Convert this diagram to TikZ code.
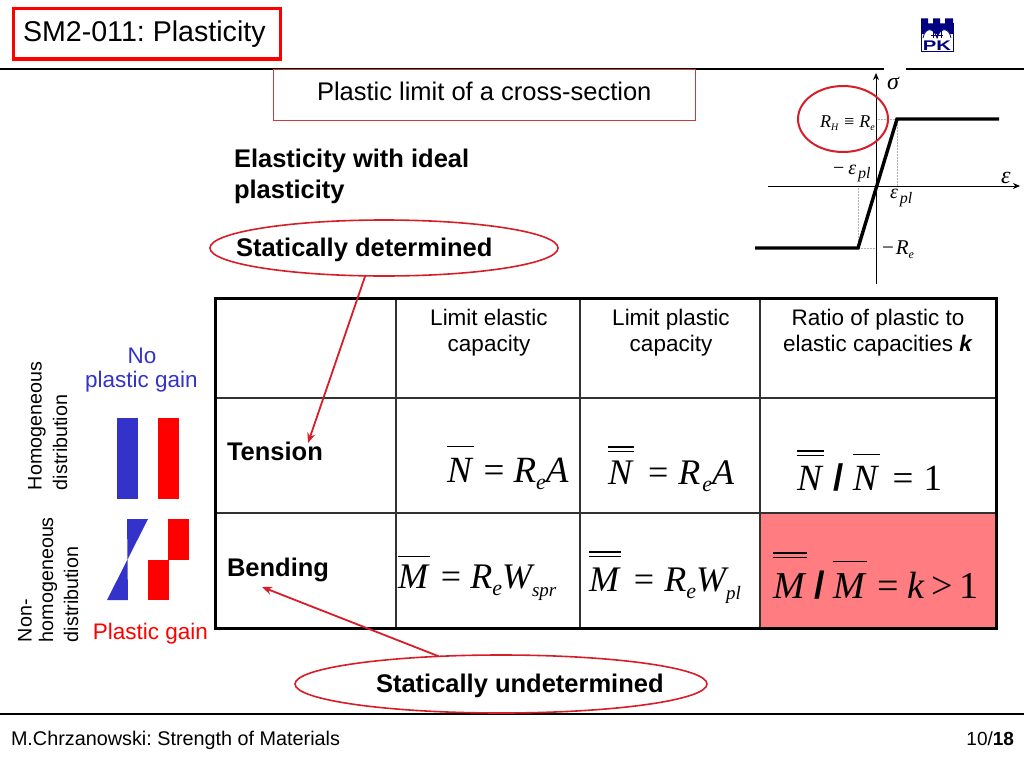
\documentclass[tikz,border=0pt]{standalone}
\usepackage{fontspec}
\usetikzlibrary{shapes.geometric,arrows.meta}
\setmainfont{Liberation Sans}
\newfontfamily\tms{Liberation Serif}
\frenchspacing
\definecolor{bluegain}{RGB}{51,51,204}
\definecolor{redgain}{RGB}{255,0,0}
\definecolor{ovalred}{RGB}{215,30,40}
\definecolor{pinkcell}{RGB}{255,124,128}
\definecolor{boxred}{RGB}{205,60,60}
\definecolor{navylogo}{RGB}{0,0,128}
\definecolor{gridgray}{RGB}{50,50,50}
\newcommand\fs[1]{\fontsize{#1pt}{#1pt}\selectfont}
% single and double overbars
\newcommand\barS[2]{\leavevmode\setbox0\hbox{#2}\rlap{\raisebox{#1}{\rule{\dimexpr\wd0+2pt\relax}{1.2pt}}}\box0\relax}
\newcommand\barD[2]{\leavevmode\setbox0\hbox{#2}\rlap{\raisebox{#1}{\rule{\dimexpr\wd0+2pt\relax}{1.2pt}}}\rlap{\raisebox{\dimexpr#1+4.5pt\relax}{\rule{\dimexpr\wd0+2pt\relax}{1.2pt}}}\box0\relax}
\newcommand\subs[3]{\raisebox{#1}{\fs{#2}#3}}
\newcommand\gap[1]{\hspace*{#1pt}}
\newcommand\slashb{{\normalfont\bfseries/}}
\tikzset{
  px/.style={inner sep=0pt,outer sep=0pt},
  head/.style={px,font=\fs{22.5},align=center,text height=16pt,text depth=5pt},
  bold/.style={px,font=\fs{25.5}\bfseries,anchor=base west},
  side/.style={px,font=\fs{19.7},rotate=90,anchor=west,align=left},
  redell/.style={draw=ovalred,line width=1.6pt,ellipse,px},
  redarrow/.style={draw=ovalred,line width=1.8pt,-{Stealth[length=10pt,width=8pt]}},
  formula/.style={px,anchor=base west,font=\tms\itshape},
  plotlab/.style={px,anchor=base west,font=\tms\itshape\fs{18}},
  axisline/.style={draw=black,line width=1pt,-{Stealth[length=7pt,width=6pt]}},
  guide/.style={draw=gray!60,line width=.5pt,densely dotted},
}
\begin{document}
\begin{tikzpicture}[x=1pt,y=-1pt]
\useasboundingbox (0,0) rectangle (1024,768);
\fill[white] (0,0) rectangle (1024,768);
% header and footer
\draw[line width=1.2pt] (0,69) -- (884,69) (906,69) -- (1024,69);
\draw[line width=1.2pt] (0,714) -- (1024,714);
\node[draw=redgain,line width=3pt,px,minimum width=267pt,minimum height=50pt] (title) at (147,34) {};
\node[px,anchor=base west,font=\fs{28.6}] (titletext) at (23,41.5) {SM2-011: Plasticity};
\node[px,anchor=base west,font=\fs{19.8}] (author) at (11,745.5) {M.Chrzanowski: Strength of Materials};
\node[px,anchor=base east,font=\fs{19}] (page) at (1014,745.5) {10/\textbf{18}};
% logo
\fill[navylogo] (921,18.5) -- (928,18.5) -- (928,23.5) -- (933,23.5) -- (933,18.5) -- (940,18.5) -- (940,23.5) -- (945,23.5) -- (945,18.5) -- (953,18.5) -- (953,34) -- (921,34) -- cycle;
\fill[white] (923,37) .. controls (925,27) and (934,27) .. (937,38) .. controls (940,27) and (949,27) .. (951,37) -- (951,39) -- (923,39) -- cycle;
\draw[navylogo,line width=.6pt] (921,23) -- (921,51) -- (953,51) -- (953,23);
\draw[navylogo,line width=.8pt] (923,38) .. controls (925,27) and (934,27) .. (937,38) .. controls (940,27) and (949,27) .. (951,38);
\draw[navylogo,line width=.5pt] (933,38) -- (933,31) (937,38) -- (937,31) (941,38) -- (941,31) (931,35) -- (943,35);
\node[px,font=\fs{14}\bfseries,text=navylogo] (logotext) at (937,45.5) {\scalebox{1.45}[1]{PK}};
% subtitle
\node[draw=boxred,line width=1pt,px,minimum width=422pt,minimum height=51pt] (sub) at (484,94.5) {};
\node[px,anchor=base west,font=\fs{25.5}] (subtext) at (317,100) {Plastic limit of a cross-section};
% heading
\node[bold] (h1) at (234,167) {Elasticity with ideal};
\node[bold] (h2) at (234,198) {plasticity};
% plot
\draw[guide] (876,119) -- (897,119) -- (897,186);
\draw[guide] (858,186) -- (858,248) -- (876,248);
\coordinate (vbot) at (876,284);
\coordinate (vtop) at (876,73);
\coordinate (hleft) at (768,186);
\coordinate (hright) at (1020,186);
\draw[axisline] (vbot) -- (vtop);
\draw[axisline] (hleft) -- (hright);
\draw[line width=3.4pt,miter limit=10] (755,248) -- (858,248) -- (897,119) -- (999,119);
\node[plotlab,font=\tms\itshape\fs{24}] (sig) at (887,89.5) {σ};
\node[plotlab,font=\tms\itshape\fs{24}] (eps) at (1001,183.5) {ε};
\node[plotlab] (rh) at (820,127) {R\subs{-3pt}{10}{H}\gap{5}≡\gap{4}R\subs{-3pt}{10}{e}};
\node[plotlab,font=\tms\itshape\fs{20}] (mep) at (833,174) {\textup{−}\gap{4}ε\subs{-4pt}{16}{\gap{2}pl}};
\node[plotlab,font=\tms\itshape\fs{20}] (ep) at (890,198) {ε\subs{-5pt}{16}{\gap{2}pl}};
\node[plotlab,font=\tms\itshape\fs{21}] (mre) at (882,254) {\textup{−}\gap{2}R\subs{-4pt}{12}{e}};
\node[redell,line width=2pt,minimum width=90pt,minimum height=66pt] (oval) at (843,119) {};
% ellipses with labels
\node[redell,minimum width=348pt,minimum height=56pt] (e1) at (384,248) {};
\node[redell,minimum width=412pt,minimum height=58pt] (e2) at (501,684) {};
\node[bold] (det) at (236,256.5) {Statically determined};
\node[bold] (undet) at (376,692.5) {Statically undetermined};
% table
\fill[pinkcell] (760,513) rectangle (996,628);
\draw[gridgray,line width=1.2pt] (396,298) -- (396,628) (580,298) -- (580,628) (760,298) -- (760,628);
\draw[gridgray,line width=1.2pt] (215,398) -- (996,398) (215,513) -- (996,513);
\draw[black,line width=3pt] (215,298) rectangle (996,628);
\node[head] (c1a) at (489,320) {Limit elastic};
\node[head] (c1b) at (489,346) {capacity};
\node[head] (c2a) at (671,320) {Limit plastic};
\node[head] (c2b) at (671,346) {capacity};
\node[head] (c3a) at (878,320) {Ratio of plastic to};
\node[head] (c3b) at (878,346) {elastic capacities \textbf{\textit{k}}};
\node[bold] (tens) at (227,460.5) {Tension};
\node[bold] (bend) at (227,576.5) {Bending};
% formulas
\node[formula,font=\tms\itshape\fs{37}] (f1) at (447,482) {\barS{35pt}{N}\gap{12}\textup{=}\gap{9}R\subs{-7pt}{22}{e}A};
\node[formula,font=\tms\itshape\fs{36}] (f2) at (608,484) {\barD{32pt}{N}\gap{16}\textup{=}\gap{10}R\gap{2}\subs{-7pt}{22}{e}A};
\node[formula,font=\tms\itshape\fs{37}] (f3) at (797,490) {\barD{34pt}{N}\gap{12}\slashb\gap{9}\barS{35pt}{N}\gap{15}\textup{=}\gap{10}\textup{1}};
\node[formula,font=\tms\itshape\fs{36}] (f4) at (398,588) {\barS{31pt}{M}\gap{13}\textup{=}\gap{9}R\subs{-7pt}{22}{e}W\subs{-8pt}{19}{spr}};
\node[formula,font=\tms\itshape\fs{36}] (f5) at (589,591) {\barD{34pt}{M}\gap{15}\textup{=}\gap{10}R\subs{-7pt}{22}{e}W\subs{-8pt}{19}{pl}};
\node[formula,font=\tms\itshape\fs{38}] (f6) at (773,598) {\barD{40pt}{M}\gap{10}\slashb\gap{8}\barS{36pt}{M}\gap{13}\textup{=}\gap{8}k\gap{7}\textup{>}\gap{7}\textup{1}};
% arrows
\coordinate (t1) at (308,443);
\coordinate (t2) at (262,587);
\draw[redarrow] (e1.236) -- (t1);
\draw[redarrow] (e2.156) -- (t2);
% side
\node[px,font=\fs{22.5},text=bluegain] (nog) at (142,356) {No};
\node[px,font=\fs{22.5},text=bluegain] (plg) at (141.5,382) {plastic gain};
\node[px,font=\fs{22.5},text=redgain] (pgr) at (150.5,634) {Plastic gain};
\node[side] (s1a) at (37,490) {Homogeneous};
\node[side] (s1b) at (60,490) {distribution};
\node[side] (s2a) at (25,642) {Non-};
\node[side] (s2b) at (48,642) {homogeneous};
\node[side] (s2c) at (71,642) {distribution};
\fill[bluegain] (116.5,418) rectangle (137.5,499);
\fill[redgain] (158,418) rectangle (179,499);
\fill[bluegain] (127,519) -- (148,519) -- (127.5,559.5) -- cycle;
\fill[bluegain] (107,600) -- (128,600) -- (127.5,559.5) -- cycle;
\fill[redgain] (168,519) rectangle (189,560);
\fill[redgain] (148,560) rectangle (169,600);
\end{tikzpicture}
\end{document}
